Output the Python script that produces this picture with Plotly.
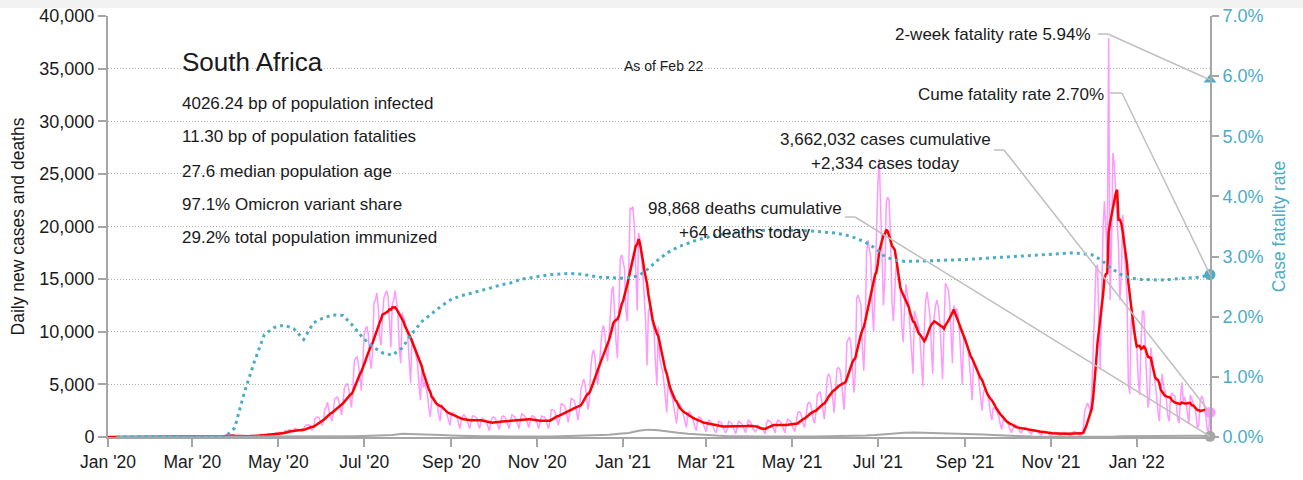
import pandas as pd
import plotly.graph_objects as go

START = "2020-01-01"
AS_OF = "2022-02-22"

TITLE = "South Africa"
INFO_LINES = [
    "4026.24 bp of population infected",
    "11.30 bp of population fatalities",
    "27.6 median population age",
    "97.1% Omicron variant share",
    "29.2% total population immunized",
]
AS_OF_LABEL = "As of Feb 22"
CUM_CASES = 3662032
CUM_DEATHS = 98868
TWO_WEEK_RATE = 5.94  # percent

# Daily new cases, one row per week (Wed..Tue) starting 2020-01-01
daily_cases = [
    0, 0, 0, 0, 0, 0, 0,
    0, 0, 0, 0, 0, 0, 0,
    0, 0, 0, 0, 0, 0, 0,
    0, 0, 0, 0, 0, 0, 0,
    0, 0, 0, 0, 0, 0, 0,
    0, 0, 0, 0, 0, 0, 0,
    0, 0, 0, 0, 0, 0, 0,
    0, 0, 0, 0, 0, 0, 0,
    0, 0, 0, 0, 0, 0, 0,
    0, 1, 0, 1, 0, 4, 1,
    6, 3, 8, 14, 13, 11, 23,
    31, 34, 52, 38, 34, 128, 152,
    155, 218, 243, 117, 93, 46, 27,
    73, 82, 80, 59, 90, 52, 48,
    69, 89, 96, 178, 152, 87, 61,
    143, 98, 91, 251, 285, 181, 133,
    145, 245, 318, 207, 248, 142, 187,
    354, 385, 297, 447, 437, 318, 424,
    663, 431, 637, 698, 595, 471, 511,
    818, 730, 723, 611, 681, 480, 767,
    1050, 1150, 1100, 1160, 900, 650, 850,
    1750, 1850, 1900, 1800, 1400, 1100, 1400,
    2650, 2800, 3300, 2500, 1900, 1500, 2150,
    3600, 3700, 3800, 3400, 2600, 2100, 3200,
    4700, 4900, 5100, 4600, 3400, 2800, 4600,
    7200, 7500, 7600, 6900, 5200, 4400, 6700,
    9800, 10300, 10500, 9700, 7500, 6500, 8200,
    12800, 13000, 13700, 12400, 9500, 8700, 11300,
    13200, 13600, 13900, 13400, 10800, 8500, 12700,
    13000, 13900, 12700, 11700, 8300, 7000, 11800,
    11300, 11000, 10400, 9500, 7000, 5100, 9400,
    8600, 8400, 7800, 6900, 4900, 3500, 6800,
    4700, 5200, 4600, 4000, 2800, 1900, 3400,
    3800, 3500, 3300, 3000, 2100, 1500, 3100,
    2700, 2600, 2500, 2100, 1500, 1100, 2200,
    2300, 2200, 2100, 1900, 1300, 800, 1650,
    2000, 2100, 1900, 1700, 1200, 800, 1500,
    2000, 2000, 1900, 1800, 1200, 800, 1500,
    1800, 1700, 1600, 1400, 900, 600, 1450,
    1800, 1900, 1800, 1500, 1000, 700, 1450,
    1900, 2000, 1900, 1600, 1100, 800, 1550,
    2100, 2000, 1900, 1700, 1100, 800, 1600,
    2200, 2100, 2000, 1800, 1200, 900, 1560,
    2000, 2000, 1900, 1700, 1100, 800, 1350,
    2000, 1900, 1900, 1700, 1100, 800, 1450,
    2600, 2600, 2500, 2200, 1500, 1100, 1850,
    3200, 3100, 3000, 2700, 1900, 1400, 2200,
    3700, 3600, 3500, 3100, 2200, 1600, 2600,
    4500, 5000, 5500, 5000, 3400, 2600, 3400,
    6500, 7800, 8300, 7600, 5800, 5000, 6600,
    9000, 10000, 10600, 10000, 8000, 7200, 9600,
    12500, 14000, 14300, 11500, 9000, 7500, 11700,
    17000, 17300, 16500, 16000, 12000, 11000, 15900,
    21800, 21600, 21900, 19900, 15000, 12000, 19400,
    18800, 17000, 15600, 13400, 11000, 6800, 12000,
    12300, 11500, 11000, 10000, 7000, 4900, 10500,
    7500, 6800, 6300, 5200, 3600, 2300, 5400,
    4500, 4000, 3700, 2800, 1900, 1300, 2800,
    3200, 2900, 2600, 2000, 1300, 900, 2150,
    2400, 2200, 1900, 1500, 1000, 600, 1600,
    1900, 1800, 1600, 1200, 800, 500, 1300,
    1600, 1500, 1300, 1000, 600, 400, 950,
    1500, 1400, 1300, 900, 600, 400, 760,
    1500, 1400, 1300, 1000, 600, 300, 900,
    1500, 1400, 1300, 1100, 700, 400, 950,
    1600, 1500, 1300, 800, 600, 500, 700,
    1100, 1000, 900, 800, 500, 300, 1350,
    1600, 1500, 1400, 1100, 700, 400, 1280,
    1600, 1500, 1400, 1100, 700, 400, 1280,
    1700, 1600, 1500, 1100, 700, 500, 1300,
    2300, 2400, 2300, 1900, 1200, 900, 1950,
    3100, 3300, 3200, 2600, 1700, 1300, 2300,
    4000, 4200, 4300, 3500, 2300, 1700, 3450,
    5600, 6000, 5700, 4800, 3200, 2300, 4600,
    6500, 6600, 6400, 5500, 3600, 2600, 5200,
    9000, 9300, 9500, 8500, 5800, 4200, 6200,
    13200, 13500, 13000, 12500, 8500, 6300, 10000,
    17500, 18700, 18000, 17000, 12300, 10000, 14300,
    19500, 24000, 26400, 21000, 16500, 12500, 15200,
    22300, 22800, 22500, 19000, 13000, 11000, 14000,
    16300, 16000, 15000, 14000, 10500, 9000, 12300,
    14500, 13500, 12500, 10000, 8000, 6000, 12000,
    11500, 11000, 10500, 9200, 6500, 4800, 10200,
    13000, 13800, 12800, 11500, 8500, 6000, 11400,
    12500, 13000, 12300, 11000, 7500, 5500, 10300,
    14600, 14300, 14000, 12800, 9500, 7000, 12500,
    12000, 12200, 11500, 10000, 7000, 5000, 9500,
    9500, 9000, 8500, 7200, 5000, 3500, 7300,
    6800, 6700, 6200, 5100, 3500, 2500, 4200,
    4600, 4400, 4000, 3400, 2300, 1600, 2800,
    2700, 2600, 2300, 1900, 1200, 700, 1550,
    1700, 1600, 1400, 1100, 700, 400, 800,
    1200, 1100, 1100, 900, 500, 350, 800,
    900, 900, 800, 650, 400, 250, 650,
    700, 650, 600, 450, 300, 200, 460,
    550, 500, 450, 350, 200, 150, 320,
    450, 420, 400, 300, 150, 100, 280,
    440, 430, 400, 320, 150, 110, 250,
    500, 500, 450, 350, 200, 150, 300,
    868, 2465, 2828, 3220, 2858, 2273, 4373,
    8561, 11535, 16055, 16366, 11125, 6381, 13147,
    19842, 22391, 19018, 17154, 37875, 13000, 18000,
    26976, 26000, 23000, 19590, 18000, 13000, 15400,
    21100, 19000, 15500, 13500, 5000, 4100, 11000,
    11500, 10800, 9300, 8500, 5500, 4000, 9000,
    12000, 11900, 8000, 5500, 2800, 3800, 8500,
    7400, 6500, 5400, 4000, 2400, 1500, 4300,
    6000, 4800, 4400, 3600, 2000, 1500, 3800,
    4200, 3950, 3900, 3200, 1800, 1300, 3600,
    5200, 3400, 3800, 3200, 1900, 1250, 4000,
    3600, 3200, 2900, 2200, 850, 1100, 3400,
    3900, 3650, 2900, 2100, 700, 516, 2334,
]

# Daily deaths, read once a week (each Tuesday from 2020-01-07)
weekly_deaths = [
    0, 0, 0, 0, 0, 0, 0, 0, 0, 0, 0, 0,
    1, 2, 2, 3, 5, 8, 10, 13, 20, 35, 50, 60,
    70, 90, 110, 140, 180, 300, 290, 270, 250, 200, 150, 100,
    80, 60, 60, 50, 60, 60, 60, 50, 50, 70, 90, 100,
    110, 150, 210, 300, 380, 600, 700, 650, 560, 400, 300, 230,
    160, 110, 80, 60, 50, 40, 40, 45, 45, 45, 45, 55,
    60, 80, 100, 110, 140, 180, 260, 360, 400, 420, 400, 380,
    380, 320, 300, 280, 230, 180, 130, 100, 60, 40, 30, 25,
    20, 20, 20, 20, 25, 35, 60, 80, 90, 100, 130, 150,
    140, 130, 120, 64,
]

# Cumulative case fatality rate (%), same weekly dates
weekly_cfr = [
    0, 0, 0, 0, 0, 0, 0, 0, 0, 0, 0, 0,
    0.15, 0.75, 1.25, 1.70, 1.82, 1.86, 1.80, 1.62, 1.90, 1.98, 2.03, 2.02,
    1.85, 1.65, 1.50, 1.40, 1.36, 1.48, 1.72, 1.92, 2.05, 2.18, 2.29, 2.35,
    2.39, 2.43, 2.48, 2.53, 2.56, 2.62, 2.65, 2.68, 2.70, 2.71, 2.72, 2.71,
    2.68, 2.66, 2.65, 2.64, 2.65, 2.68, 2.80, 2.95, 3.07, 3.16, 3.22, 3.28,
    3.32, 3.36, 3.38, 3.40, 3.42, 3.43, 3.44, 3.44, 3.44, 3.44, 3.43, 3.42,
    3.41, 3.39, 3.36, 3.31, 3.24, 3.14, 3.00, 2.94, 2.92, 2.92, 2.92, 2.93,
    2.94, 2.94, 2.95, 2.96, 2.97, 2.98, 2.99, 3.00, 3.02, 3.03, 3.04, 3.05,
    3.05, 3.06, 3.05, 3.03, 2.94, 2.80, 2.70, 2.64, 2.62, 2.61, 2.61, 2.62,
    2.63, 2.64, 2.66, 2.70,
]

# ---- derived series ----
dates = pd.date_range(START, periods=len(daily_cases), freq="D")
cases = pd.Series(daily_cases, index=dates)
cases_avg = cases.rolling(7, min_periods=1).mean()
week_dates = pd.date_range(pd.Timestamp(START) + pd.Timedelta(days=6),
                           periods=len(weekly_deaths), freq="7D")
cfr = pd.Series(weekly_cfr, index=week_dates) / 100.0

last_date = dates[-1]
today_cases = daily_cases[-1]
today_deaths = weekly_deaths[-1]
cume_rate = weekly_cfr[-1]

PINK = "#ff99ff"
RED = "#ff0000"
GREY = "#a6a6a6"
TEAL = "#4bacc6"
LEADER = "#bfbfbf"
AXIS = "#a6a6a6"
TEXT = "#1a1a1a"
FONT = "Liberation Sans, Arial, sans-serif"

Y_MAX = 40000
Y2_MAX = 0.07

fig = go.Figure()
fig.add_trace(go.Scatter(x=dates, y=cases, mode="lines",
                         line=dict(color=PINK, width=1.5), name="Daily cases"))
fig.add_trace(go.Scatter(x=dates, y=cases_avg, mode="lines",
                         line=dict(color=RED, width=2.5), name="7-day average"))
fig.add_trace(go.Scatter(x=week_dates, y=weekly_deaths, mode="lines",
                         line=dict(color=GREY, width=2), name="Daily deaths"))
fig.add_trace(go.Scatter(x=week_dates, y=cfr, mode="lines", yaxis="y2",
                         line=dict(color=TEAL, width=3, dash="3px,4px"),
                         name="Case fatality rate"))

# end-point markers
fig.add_trace(go.Scatter(x=[last_date], y=[today_cases], mode="markers",
                         marker=dict(color=PINK, size=11), cliponaxis=False))
fig.add_trace(go.Scatter(x=[last_date], y=[today_deaths], mode="markers",
                         marker=dict(color=GREY, size=11), cliponaxis=False))
fig.add_trace(go.Scatter(x=[last_date], y=[cume_rate / 100], yaxis="y2", mode="markers",
                         marker=dict(color=TEAL, size=11), cliponaxis=False))
fig.add_trace(go.Scatter(x=[last_date], y=[TWO_WEEK_RATE / 100], yaxis="y2", mode="markers",
                         marker=dict(color=TEAL, size=11, symbol="triangle-up"),
                         cliponaxis=False))

x_start = pd.Timestamp(START)
x_end = pd.Timestamp(AS_OF)


def frac_to_date(f):
    return x_start + (x_end - x_start) * f


shapes = []


def leader(fx0, fx1, fy, yref, ymax, end_y):
    """Short horizontal stub next to a label, then a diagonal to the end marker."""
    y0 = fy * ymax
    d0, d1 = frac_to_date(fx0), frac_to_date(fx1)
    shapes.append(dict(type="line", xref="x", yref=yref, x0=d0, x1=d1, y0=y0, y1=y0,
                       line=dict(color=LEADER, width=1.5)))
    shapes.append(dict(type="line", xref="x", yref=yref, x0=d1, x1=last_date, y0=y0, y1=end_y,
                       line=dict(color=LEADER, width=1.5)))


leader(0.8984, 0.9074, 0.9572, "y2", Y2_MAX, TWO_WEEK_RATE / 100)
leader(0.9093, 0.9201, 0.8171, "y2", Y2_MAX, cume_rate / 100)
leader(0.8040, 0.8131, 0.6817, "y", Y_MAX, today_cases)
leader(0.6688, 0.6779, 0.5226, "y", Y_MAX, today_deaths)

# light band along the top edge of the page
shapes.append(dict(type="rect", xref="paper", yref="paper",
                   x0=-0.1, x1=1.1, y0=1.019, y1=1.06,
                   fillcolor="#f2f2f2", line=dict(width=0), layer="below"))

annotations = []


def label(text, fx, fy, size, xanchor="left", color=TEXT):
    annotations.append(dict(text=text, x=fx, y=fy, xref="paper", yref="paper",
                            xanchor=xanchor, yanchor="middle", showarrow=False,
                            font=dict(family=FONT, size=size, color=color)))


label(TITLE, 0.0653, 0.8907, 26)
for line, fy in zip(INFO_LINES, [0.7933, 0.7126, 0.6318, 0.5511, 0.4727]):
    label(line, 0.0653, fy, 17)
label(AS_OF_LABEL, 0.5045, 0.8812, 14, xanchor="center")
label(f"2-week fatality rate {TWO_WEEK_RATE:.2f}%", 0.8938, 0.9572, 17, xanchor="right")
label(f"Cume fatality rate {cume_rate:.2f}%", 0.9056, 0.8147, 17, xanchor="right")
label(f"{CUM_CASES:,} cases cumulative", 0.7051, 0.7055, 17, xanchor="center")
label(f"+{today_cases:,} cases today", 0.7051, 0.6508, 17, xanchor="center")
label(f"{CUM_DEATHS:,} deaths cumulative", 0.5776, 0.5439, 17, xanchor="center")
label(f"+{today_deaths:,} deaths today", 0.5776, 0.4869, 17, xanchor="center")

fig.update_layout(
    width=1303, height=480,
    margin=dict(l=108, r=93, t=16, b=43, pad=0),
    paper_bgcolor="white", plot_bgcolor="white",
    showlegend=False,
    font=dict(family=FONT, color=TEXT, size=17),
    shapes=shapes,
    annotations=annotations,
    xaxis=dict(
        type="date", range=[START, AS_OF], automargin=False,
        tick0=START, dtick="M2", tickformat="%b '%y",
        ticks="outside", ticklen=8, tickwidth=2, tickcolor=AXIS,
        showline=True, linecolor=AXIS, linewidth=2,
        showgrid=False, zeroline=False,
        tickfont=dict(family=FONT, size=17.5, color=TEXT),
    ),
    yaxis=dict(
        range=[0, Y_MAX], dtick=5000, tickformat=",", automargin=False,
        ticks="outside", ticklen=8, tickwidth=2, tickcolor=AXIS,
        showline=True, linecolor=AXIS, linewidth=2,
        showgrid=True, gridcolor="#b0b0b0", griddash="1px,2px", gridwidth=1,
        zeroline=False,
        tickfont=dict(family=FONT, size=18, color=TEXT),
        title=dict(text="Daily new cases and deaths",
                   font=dict(family=FONT, size=17.5, color=TEXT), standoff=10),
    ),
    yaxis2=dict(
        overlaying="y", side="right", automargin=False,
        range=[0, Y2_MAX], dtick=0.01, tickformat=".1%",
        ticks="outside", ticklen=7, tickwidth=2, tickcolor=AXIS,
        showline=True, linecolor=AXIS, linewidth=2,
        showgrid=False, zeroline=False,
        tickfont=dict(family=FONT, size=18, color=TEAL),
        title=dict(text="Case fatality rate",
                   font=dict(family=FONT, size=17.5, color=TEAL), standoff=10),
    ),
)

fig.write_html("out.html")
